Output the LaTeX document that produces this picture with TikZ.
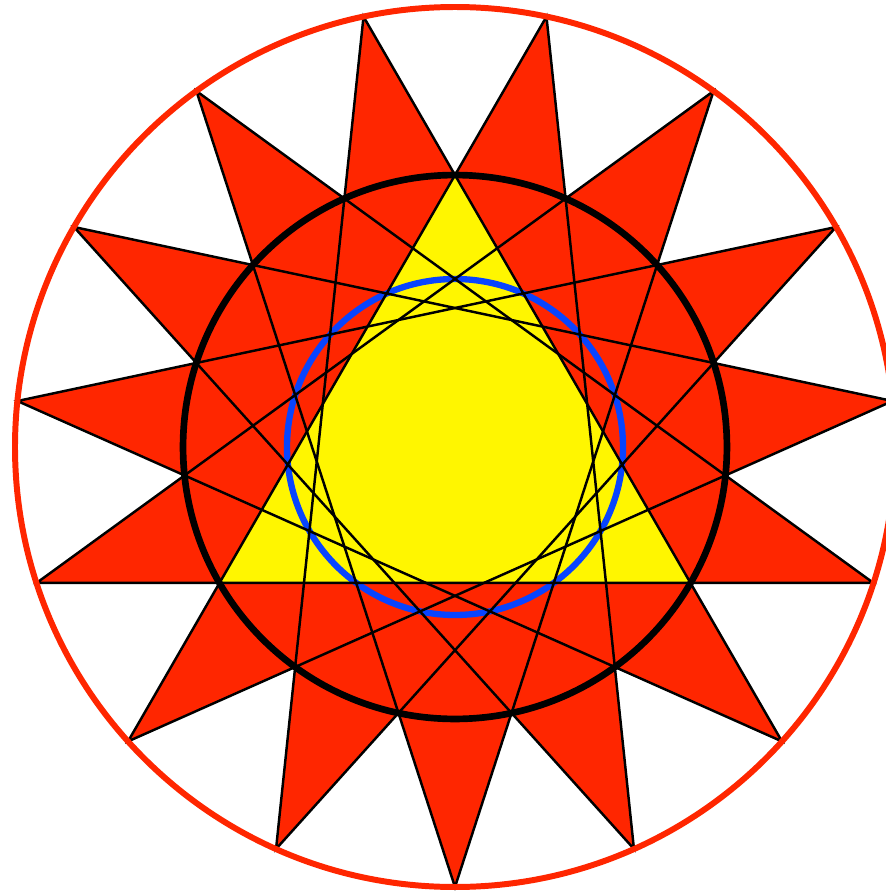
\documentclass[tikz,border=0pt]{standalone}
\usepackage{tikz}
\definecolor{sunred}{RGB}{255,38,0}
\definecolor{sunyellow}{RGB}{255,246,0}
\definecolor{ringblue}{RGB}{8,68,255}

\begin{document}
\begin{tikzpicture}[
  spike/.style={fill=sunred},
  starline/.style={draw=black, line width=1.4pt},
  core/.style={fill=sunyellow},
  innerring/.style={draw=ringblue, line width=3.6pt},
  midring/.style={draw=black, line width=3.8pt},
  outerring/.style={draw=sunred, line width=3.4pt}
]
  \useasboundingbox (-9.1,-8.92) rectangle (8.62,8.94);
  \coordinate (centre) at (0,0);

  % three pentagrams make the 15 spikes
  \foreach \k in {0,1,2}
    \fill[spike] (270+24*\k:8.8) -- (414+24*\k:8.8) -- (558+24*\k:8.8)
      -- (702+24*\k:8.8) -- (846+24*\k:8.8) -- cycle;

  \fill[core] (90:5.439) -- (210:5.439) -- (330:5.439) -- cycle;

  \draw[innerring] (centre) circle (3.36);

  \foreach \k in {0,1,2}
    \draw[starline] (270+24*\k:8.8) -- (414+24*\k:8.8) -- (558+24*\k:8.8)
      -- (702+24*\k:8.8) -- (846+24*\k:8.8) -- cycle;

  \draw[midring] (centre) circle (5.439);
  \draw[outerring] (centre) circle (8.8);
\end{tikzpicture}
\end{document}
